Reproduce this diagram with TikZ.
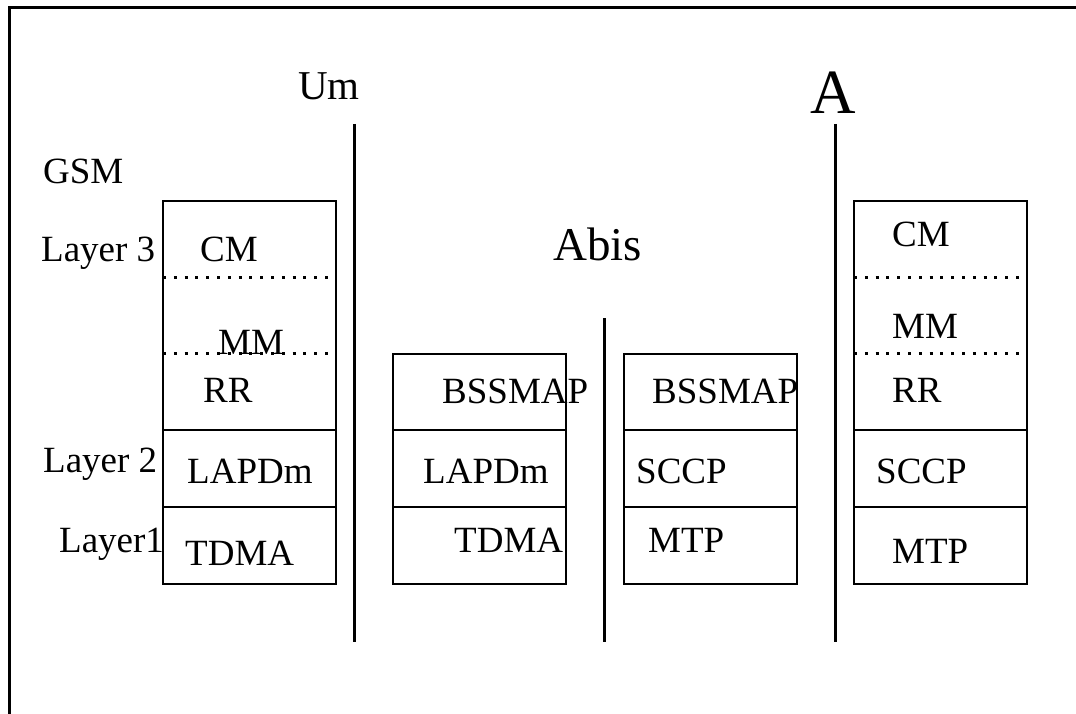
\documentclass[tikz,border=0pt]{standalone}
\usepackage{fontspec}
\setmainfont{Liberation Serif}
\begin{document}
\begin{tikzpicture}[x=1pt,y=-1pt,
  layerbox/.style={draw, line width=2.6pt, anchor=north west, inner sep=0pt, outer sep=0pt,
    minimum width=173pt},
  lbl/.style={inner sep=0pt, anchor=base west, font=\fontsize{37}{41}\selectfont},
  iface/.style={line width=3pt},
  sublayer/.style={line width=3pt, dash pattern=on 3pt off 7.8pt},
  frameline/.style={line width=3pt}]
\useasboundingbox (0,0) rectangle (1076,714);

% outer frame (top and left edges)
\coordinate (fTL) at (9,8);
\coordinate (fTR) at (1076,8);
\coordinate (fBL) at (9,714);
\draw[frameline] (fTR) -- (fTL) -- (fBL);

% interface separators
\coordinate (umT) at (354,124);   \coordinate (umB) at (354,642);
\coordinate (abT) at (604,318);   \coordinate (abB) at (604,642);
\coordinate (aT)  at (835,124);   \coordinate (aB)  at (835,642);
\draw[iface] (umT) -- (umB);
\draw[iface] (abT) -- (abB);
\draw[iface] (aT) -- (aB);

% MS protocol stack
\node[layerbox, minimum height=229pt] (ms3) at (163,201) {};
\node[layerbox, minimum height=77pt]  (ms2) at (163,430) {};
\node[layerbox, minimum height=77pt]  (ms1) at (163,507) {};
\coordinate (msd1a) at (163,277); \coordinate (msd1b) at (330,277);
\coordinate (msd2a) at (163,353); \coordinate (msd2b) at (330,353);
\draw[sublayer] (msd1a) -- (msd1b);
\draw[sublayer] (msd2a) -- (msd2b);

% BTS stack
\node[layerbox, minimum height=76pt] (bts3) at (393,354) {};
\node[layerbox, minimum height=77pt] (bts2) at (393,430) {};
\node[layerbox, minimum height=77pt] (bts1) at (393,507) {};

% BSC stack
\node[layerbox, minimum height=76pt] (bsc3) at (624,354) {};
\node[layerbox, minimum height=77pt] (bsc2) at (624,430) {};
\node[layerbox, minimum height=77pt] (bsc1) at (624,507) {};

% MSC stack
\node[layerbox, minimum height=229pt] (msc3) at (854,201) {};
\node[layerbox, minimum height=77pt]  (msc2) at (854,430) {};
\node[layerbox, minimum height=77pt]  (msc1) at (854,507) {};
\coordinate (mscd1a) at (854,277); \coordinate (mscd1b) at (1021,277);
\coordinate (mscd2a) at (854,353); \coordinate (mscd2b) at (1021,353);
\draw[sublayer] (mscd1a) -- (mscd1b);
\draw[sublayer] (mscd2a) -- (mscd2b);

% interface names
\node[lbl, font=\fontsize{41}{45}\selectfont] (um) at (298,100) {Um};
\node[lbl, font=\fontsize{47}{51}\selectfont] (abis) at (553,260) {Abis};
\node[lbl, font=\fontsize{63}{67}\selectfont] (aif) at (810,114) {A};

% layer captions
\node[lbl] (gsm) at (43,184) {GSM};
\node[lbl] (l3) at (41,261) {Layer 3};
\node[lbl] (l2) at (43,472) {Layer 2};
\node[lbl] (l1) at (59,552) {Layer1};

% MS texts
\node[lbl] (mscm) at (200,261) {CM};
\node[lbl] (msmm) at (218,354) {MM};
\node[lbl] (msrr) at (203,402) {RR};
\node[lbl] (mslap) at (187,483) {LAPDm};
\node[lbl] (mstd) at (185,565) {TDMA};

% BTS texts
\node[lbl] (btsmap) at (442,403) {BSSMAP};
\node[lbl] (btslap) at (423,483) {LAPDm};
\node[lbl] (btstd) at (454,552) {TDMA};

% BSC texts
\node[lbl] (bscmap) at (652,403) {BSSMAP};
\node[lbl] (bscsccp) at (636,483) {SCCP};
\node[lbl] (bscmtp) at (648,552) {MTP};

% MSC texts
\node[lbl] (msccm) at (892,247) {CM};
\node[lbl] (mscmm) at (892,338) {MM};
\node[lbl] (mscrr) at (892,402) {RR};
\node[lbl] (mscsccp) at (876,483) {SCCP};
\node[lbl] (mscmtp) at (892,563) {MTP};
\end{tikzpicture}
\end{document}
